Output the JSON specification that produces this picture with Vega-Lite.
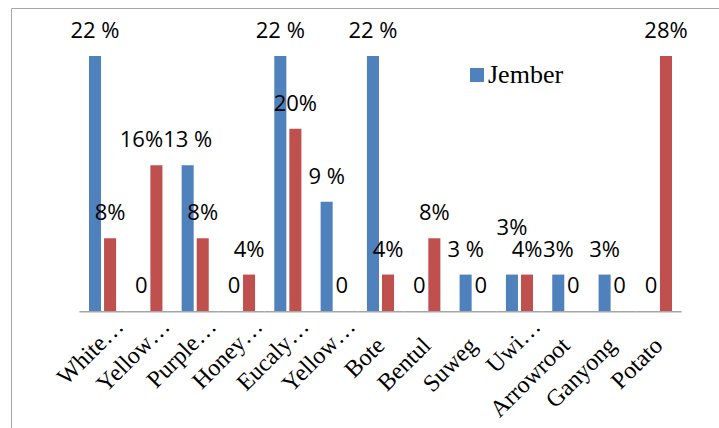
{
  "$schema": "https://vega.github.io/schema/vega-lite/v6.json",
  "width": 720,
  "height": 440,
  "autosize": {"type": "none"},
  "padding": {"left": 11, "top": 8, "right": -12, "bottom": -20},
  "background": "white",
  "config": {"view": {"stroke": "#a6a6a6", "strokeWidth": 1}},
  "data": {
    "values": [
      {"cat": "White…", "series": "Jember", "count": 7, "label": "22 %"},
      {"cat": "White…", "series": "Other", "count": 2, "label": "8%"},
      {"cat": "Yellow…", "series": "Jember", "count": 0, "label": "0"},
      {"cat": "Yellow…", "series": "Other", "count": 4, "label": "16%"},
      {"cat": "Purple…", "series": "Jember", "count": 4, "label": "13 %"},
      {"cat": "Purple…", "series": "Other", "count": 2, "label": "8%"},
      {"cat": "Honey…", "series": "Jember", "count": 0, "label": "0"},
      {"cat": "Honey…", "series": "Other", "count": 1, "label": "4%"},
      {"cat": "Eucaly…", "series": "Jember", "count": 7, "label": "22 %"},
      {"cat": "Eucaly…", "series": "Other", "count": 5, "label": "20%"},
      {"cat": "Yellow…\u200b", "series": "Jember", "count": 3, "label": "9 %"},
      {"cat": "Yellow…\u200b", "series": "Other", "count": 0, "label": "0"},
      {"cat": "Bote", "series": "Jember", "count": 7, "label": "22 %"},
      {"cat": "Bote", "series": "Other", "count": 1, "label": "4%"},
      {"cat": "Bentul", "series": "Jember", "count": 0, "label": "0"},
      {"cat": "Bentul", "series": "Other", "count": 2, "label": "8%"},
      {"cat": "Suweg", "series": "Jember", "count": 1, "label": "3 %"},
      {"cat": "Suweg", "series": "Other", "count": 0, "label": "0"},
      {"cat": "Uwi…", "series": "Jember", "count": 1, "label": "3%"},
      {"cat": "Uwi…", "series": "Other", "count": 1, "label": "4%"},
      {"cat": "Arrowroot", "series": "Jember", "count": 1, "label": "3%"},
      {"cat": "Arrowroot", "series": "Other", "count": 0, "label": "0"},
      {"cat": "Ganyong", "series": "Jember", "count": 1, "label": "3%"},
      {"cat": "Ganyong", "series": "Other", "count": 0, "label": "0"},
      {"cat": "Potato", "series": "Jember", "count": 0, "label": "0"},
      {"cat": "Potato", "series": "Other", "count": 7, "label": "28%"}
    ]
  },
  "encoding": {
    "x": {
      "field": "cat",
      "type": "nominal",
      "sort": null,
      "scale": {"range": [78, 661], "paddingInner": 0.415, "paddingOuter": 0},
      "axis": {
        "title": null,
        "domain": false,
        "ticks": false,
        "grid": false,
        "labelAngle": -45,
        "labelAlign": "right",
        "labelBaseline": "top",
        "labelFont": "Liberation Serif",
        "labelFontSize": 24,
        "labelColor": "black",
        "labelPadding": {"condition": {"test": "indexof(datum.value, '…') >= 0", "value": 3}, "value": 22},
        "labelOffset": {"condition": {"test": "indexof(datum.value, '…') >= 0", "value": 9}, "value": -8},
        "offset": -137,
        "labelOverlap": false,
        "labelBound": false,
        "labelLimit": 400,
        "labelExpr": "replace(datum.label, '\u200b', '')"
      }
    }
  },
  "layer": [
    {
      "transform": [{"filter": "datum.series == 'Jember'"}],
      "mark": {"type": "bar", "width": {"band": 1.7093}, "color": "#a6a6a6"},
      "encoding": {
        "y": {"datum": 0, "type": "quantitative", "scale": {"domain": [-3.7608, 8.3176], "nice": false, "zero": false}, "axis": null},
        "y2": {"datum": -0.04}
      }
    },
    {
      "mark": {"type": "bar"},
      "encoding": {
        "xOffset": {"field": "series", "type": "nominal", "scale": {"paddingInner": 0.2, "paddingOuter": 0}},
        "y": {"field": "count", "type": "quantitative", "stack": null, "scale": {"domain": [-3.7608, 8.3176], "nice": false, "zero": false}, "axis": null},
        "color": {
          "field": "series",
          "type": "nominal",
          "scale": {"domain": ["Jember", "Other"], "range": ["#4F81BD", "#C0504D"]},
          "legend": {
            "values": ["Jember"],
            "title": null,
            "orient": "none",
            "legendX": 453,
            "legendY": 54,
            "symbolType": "square",
            "symbolSize": 196,
            "symbolStrokeWidth": 0,
            "labelFont": "Liberation Serif",
            "labelFontSize": 26,
            "labelColor": "black",
            "labelOffset": -2,
            "padding": 0
          }
        }
      }
    },
    {
      "transform": [{"filter": "!(datum.cat == 'Uwi…' && datum.series == 'Jember') && !(datum.cat == 'Yellow…' && datum.series == 'Other')"}],
      "mark": {"type": "text", "font": "Open Sans", "fontSize": 22, "baseline": "alphabetic", "align": "center", "dy": -18, "color": "black"},
      "encoding": {
        "xOffset": {"field": "series", "type": "nominal", "scale": {"paddingInner": 0.2, "paddingOuter": 0}},
        "y": {"field": "count", "type": "quantitative", "scale": {"domain": [-3.7608, 8.3176], "nice": false, "zero": false}, "axis": null},
        "text": {"field": "label"}
      }
    },
    {
      "transform": [{"filter": "datum.cat == 'Uwi…' && datum.series == 'Jember'"}],
      "mark": {"type": "text", "font": "Open Sans", "fontSize": 22, "baseline": "alphabetic", "align": "center", "dy": -40, "color": "black"},
      "encoding": {
        "xOffset": {"field": "series", "type": "nominal", "scale": {"paddingInner": 0.2, "paddingOuter": 0}},
        "y": {"field": "count", "type": "quantitative", "scale": {"domain": [-3.7608, 8.3176], "nice": false, "zero": false}, "axis": null},
        "text": {"field": "label"}
      }
    },
    {
      "transform": [{"filter": "datum.cat == 'Yellow…' && datum.series == 'Other'"}],
      "mark": {"type": "text", "font": "Open Sans", "fontSize": 22, "baseline": "alphabetic", "align": "center", "dy": -18, "dx": -15, "color": "black"},
      "encoding": {
        "xOffset": {"field": "series", "type": "nominal", "scale": {"paddingInner": 0.2, "paddingOuter": 0}},
        "y": {"field": "count", "type": "quantitative", "scale": {"domain": [-3.7608, 8.3176], "nice": false, "zero": false}, "axis": null},
        "text": {"field": "label"}
      }
    }
  ]
}
